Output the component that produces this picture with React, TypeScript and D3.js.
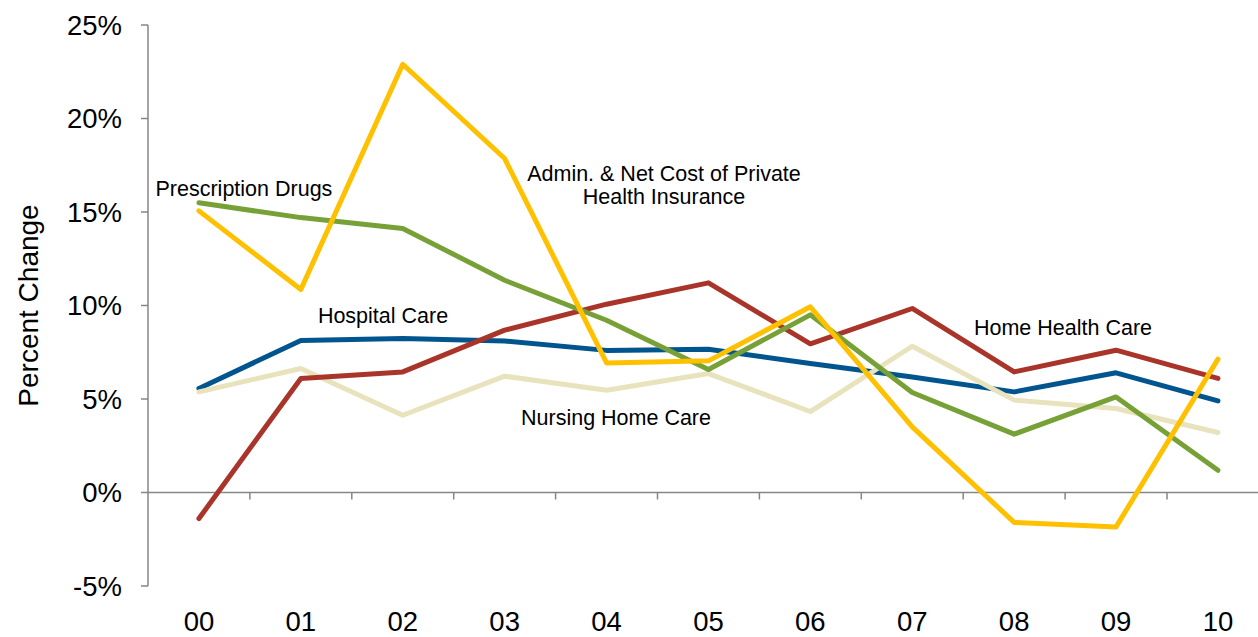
import React from "react";
import * as d3 from "d3";

const years = ["00", "01", "02", "03", "04", "05", "06", "07", "08", "09", "10"];
const yTicks = [-5, 0, 5, 10, 15, 20, 25];

const hospitalCare = [5.56, 8.13, 8.24, 8.1, 7.6, 7.66, 6.9, 6.18, 5.38, 6.4, 4.9];
const nursingHomeCare = [5.38, 6.63, 4.13, 6.22, 5.47, 6.36, 4.33, 7.82, 4.94, 4.49, 3.21];
const homeHealthCare = [-1.39, 6.1, 6.45, 8.68, 10.07, 11.21, 7.95, 9.84, 6.45, 7.61, 6.1];
const prescriptionDrugs = [15.49, 14.7, 14.12, 11.35, 9.21, 6.58, 9.5, 5.35, 3.12, 5.11, 1.19];
const adminInsurance = [15.06, 10.86, 22.9, 17.86, 6.93, 7.04, 9.93, 3.51, -1.6, -1.84, 7.13];

const seriesList = [
  { name: "Hospital Care", values: hospitalCare, color: "#00558F" },
  { name: "Nursing Home Care", values: nursingHomeCare, color: "#E8E3BD" },
  { name: "Home Health Care", values: homeHealthCare, color: "#A9352A" },
  { name: "Prescription Drugs", values: prescriptionDrugs, color: "#77A136" },
  { name: "Admin. & Net Cost of Private Health Insurance", values: adminInsurance, color: "#FFC000" },
];

const labels = [
  { lines: ["Prescription Drugs"], x: 155.5, y: 196, anchor: "start" },
  { lines: ["Admin. & Net Cost of Private", "Health Insurance"], x: 664, y: 181, anchor: "middle" },
  { lines: ["Hospital Care"], x: 383, y: 322.7, anchor: "middle" },
  { lines: ["Nursing Home Care"], x: 616, y: 425, anchor: "middle" },
  { lines: ["Home Health Care"], x: 1063, y: 335, anchor: "middle" },
];

export default function App() {
  const W = 1258;
  const H = 637;
  const x0 = 148;
  const bw = 101.9;
  const x = d3.scaleBand<string>().domain(years).range([x0, x0 + bw * years.length]).padding(0);
  const y = d3.scaleLinear().domain([-5, 25]).range([586, 25]);
  const cx = (i: number) => (x(years[i]) as number) + x.bandwidth() / 2;
  const line = d3
    .line<number>()
    .x((_, i) => cx(i))
    .y((d) => y(d));
  const font = "Arial, 'Liberation Sans', sans-serif";
  const axisColor = "#868686";
  const boundaries = years.map((_, i) => x0 + bw * (i + 1)).filter((v) => v < W);

  return (
    <svg
      width={W}
      height={H}
      style={{ position: "absolute", left: 0, top: 0, background: "#fff" }}
      fontFamily={font}
    >
      {/* Y axis */}
      <line x1={x0} x2={x0} y1={y(25)} y2={y(-5)} stroke={axisColor} strokeWidth={1.5} />
      {yTicks.map((t) => (
        <g key={t}>
          <line x1={x0 - 7} x2={x0} y1={y(t)} y2={y(t)} stroke={axisColor} strokeWidth={1.5} />
          <text x={122} y={y(t) + 9.5} textAnchor="end" fontSize={27.5} fill="#000">
            {t}%
          </text>
        </g>
      ))}
      {/* X axis at zero */}
      <line x1={x0} x2={W} y1={y(0)} y2={y(0)} stroke={axisColor} strokeWidth={1.5} />
      {boundaries.map((bx, i) => (
        <line key={i} x1={bx} x2={bx} y1={y(0)} y2={y(0) + 7} stroke={axisColor} strokeWidth={1.5} />
      ))}
      {years.map((yr, i) => (
        <text key={yr} x={cx(i)} y={631} textAnchor="middle" fontSize={27.5} fill="#000">
          {yr}
        </text>
      ))}
      <text
        transform={`translate(38, ${y(10)}) rotate(-90)`}
        textAnchor="middle"
        fontSize={28}
        fill="#000"
      >
        Percent Change
      </text>
      {seriesList.map((s) => (
        <path
          key={s.name}
          d={line(s.values) || ""}
          fill="none"
          stroke={s.color}
          strokeWidth={5}
          strokeLinecap="round"
          strokeLinejoin="round"
        />
      ))}
      {labels.map((l, i) => (
        <text key={i} x={l.x} y={l.y} textAnchor={l.anchor as any} fontSize={21.5} fill="#000">
          {l.lines.map((ln, j) => (
            <tspan key={j} x={l.x} dy={j === 0 ? 0 : 22.5}>
              {ln}
            </tspan>
          ))}
        </text>
      ))}
    </svg>
  );
}
